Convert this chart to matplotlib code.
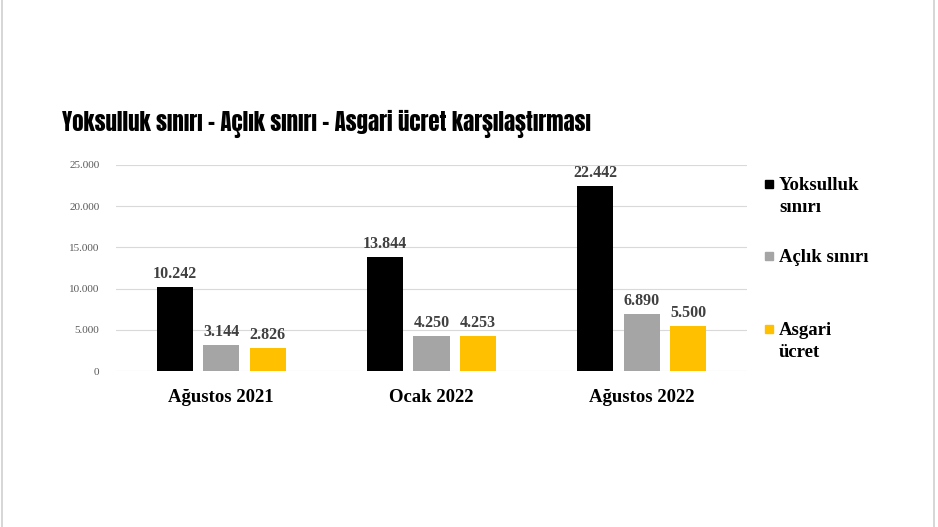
import matplotlib.pyplot as plt
import numpy as np
from matplotlib.patches import Rectangle

# data
periods = ["Ağustos 2021", "Ocak 2022", "Ağustos 2022"]
series_names = ["Yoksulluk\nsınırı", "Açlık sınırı", "Asgari\nücret"]
yoksulluk = [10242, 13844, 22442]
aclik = [3144, 4250, 6890]
asgari = [2826, 4253, 5500]
colors = ["#000000", "#A5A5A5", "#FFC000"]
yticks = [0, 5000, 10000, 15000, 20000, 25000]


def tr_fmt(v):
    return f"{v:,.0f}".replace(",", ".")


serif = ["Liberation Serif", "DejaVu Serif"]
W, H = 938, 527

fig = plt.figure(figsize=(W / 100, H / 100), dpi=100)
fig.patch.set_facecolor("white")
ax = fig.add_axes([116 / W, 0.296, 631 / W, 0.391])

x = np.arange(len(periods))
width = 0.172
step = 0.221
for i, (vals, c) in enumerate(zip([yoksulluk, aclik, asgari], colors)):
    b = ax.bar(x + (i - 1) * step, vals, width, color=c, zorder=3)
    for rect, v in zip(b, vals):
        ax.annotate(tr_fmt(v), (rect.get_x() + rect.get_width() / 2, v),
                    xytext=(0, 3.5), textcoords="offset points",
                    ha="center", va="bottom", fontsize=11.5, fontweight="bold",
                    family=serif, color="#404040")

ax.set_xlim(-0.5, 2.5)
ax.set_ylim(0, 25000)
ax.set_yticks(yticks)
ax.set_yticklabels([tr_fmt(v) for v in yticks], family=serif, fontsize=8, color="#595959")
ax.set_xticks(x)
ax.set_xticklabels(periods, family=serif, fontsize=13.5, fontweight="bold", color="#000000")
ax.tick_params(axis="both", length=0)
ax.tick_params(axis="y", pad=12)
ax.tick_params(axis="x", pad=13)
ax.grid(axis="y", color="#D9D9D9", linewidth=0.8, zorder=0)
for s in ax.spines.values():
    s.set_visible(False)

# legend on the right, drawn by hand so the marker sits on the first line
legend_y = [184, 256, 329]
for name, c, yy in zip(series_names, colors, legend_y):
    fig.add_artist(Rectangle((765 / W, 1 - (yy + 4) / H), 8 / W, 8 / H,
                             transform=fig.transFigure, color=c))
    fig.text(779 / W, 1 - (yy - 7) / H, name, family=serif, fontsize=13.5,
             fontweight="bold", va="top", ha="left", color="#000000", linespacing=1.4)

fig.text(0.066, 0.752, "Yoksulluk sınırı – Açlık sınırı – Asgari ücret karşılaştırması",
         family=["Anton", "DejaVu Sans"], fontsize=16.5,
         va="baseline", ha="left", color="#000000")

# slide border lines
fig.add_artist(Rectangle((0.002, -0.01), 0.994, 1.02, transform=fig.transFigure,
                         fill=False, edgecolor="#D0D0D0", linewidth=1.2))

fig.savefig("out.png", dpi=100, facecolor="white")
